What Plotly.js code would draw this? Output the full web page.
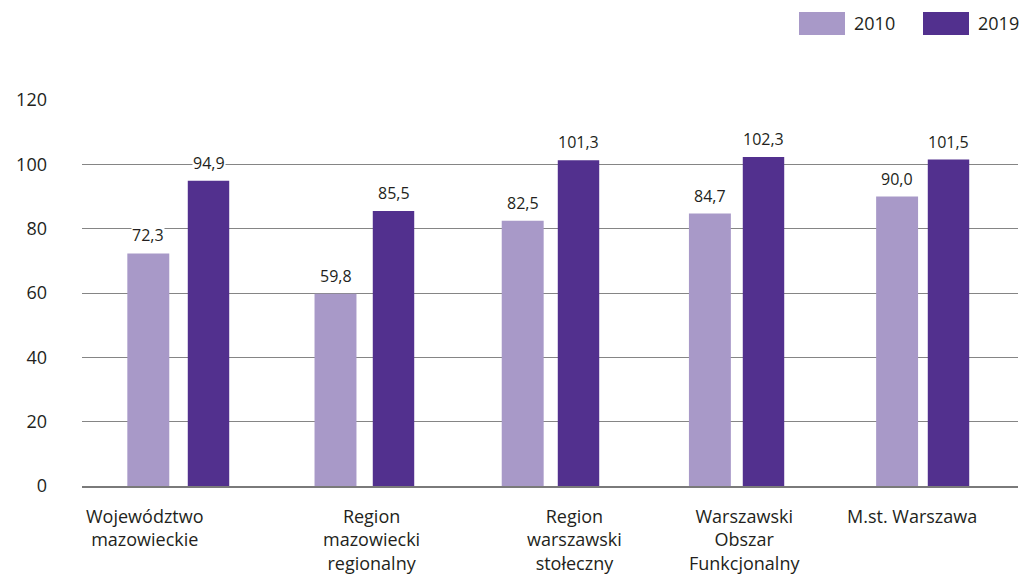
<!DOCTYPE html>
<html>
<head>
<meta charset="utf-8">
<script src="https://cdn.plot.ly/plotly-3.0.1.min.js"></script>
<style>html,body{margin:0;padding:0;background:#fff;}#chart{width:1021px;height:579px;}</style>
</head>
<body>
<div id="chart"></div>
<script>
const categories = ["Województwo<br>mazowieckie", "Region<br>mazowiecki<br>regionalny", "Region<br>warszawski<br>stołeczny", "Warszawski<br>Obszar<br>Funkcjonalny", "M.st. Warszawa"];
const seriesNames = ["2010", "2019"];
const values2010 = [72.3, 59.8, 82.5, 84.7, 90.0];
const values2019 = [94.9, 85.5, 101.3, 102.3, 101.5];
const yTicks = [0, 20, 40, 60, 80, 100, 120];

const colors = ["#A899C8", "#52308E"];
const FONT = "Open Sans, Noto Sans, sans-serif";
const TXT = "#231F20";

// plot area in pixels
const L = 82, R = 1018, T = 100, B = 486;
const W = R - L, H = B - T;

// each series sits on its own category axis (the reference spaces the two series slightly differently)
const axisNames = ["x", "x2"];
const traces = [values2010, values2019].map((vals, i) => ({
  type: "bar",
  name: seriesNames[i],
  x: categories,
  y: vals,
  xaxis: axisNames[i],
  width: 0.224,
  marker: { color: colors[i] },
  hoverinfo: "skip"
}));

const annotations = [];
// value labels
[values2010, values2019].forEach((vals, i) => {
  vals.forEach((v, j) => {
    annotations.push({
      x: categories[j], y: v, xref: axisNames[i], yref: "y",
      yanchor: "bottom", yshift: 6,
      text: v.toFixed(1).replace(".", ","),
      showarrow: false, bgcolor: "#ffffff", borderpad: 0,
      font: { family: FONT, size: 16, color: TXT }
    });
  });
});
// category labels (with the reference's horizontal offsets)
const labelShift = [-3, 36, 52, 35, 15];
categories.forEach((c, j) => {
  annotations.push({
    x: c, y: 0, xref: "x", yref: "y",
    xshift: labelShift[j], yanchor: "top", yshift: -16,
    text: c, showarrow: false, align: "center",
    font: { family: FONT, size: 18, color: TXT }
  });
});

// custom legend (wide swatches as in the reference)
const px = v => (v - L) / W;
const py = v => (B - v) / H;
const shapes = [];
const legendX = [799, 923];
seriesNames.forEach((n, i) => {
  shapes.push({
    type: "rect", xref: "paper", yref: "paper",
    x0: px(legendX[i]), x1: px(legendX[i] + 46), y0: py(35), y1: py(12),
    fillcolor: colors[i], line: { width: 0 }
  });
  annotations.push({
    xref: "paper", yref: "paper", x: px(legendX[i] + 53), y: py(23.5),
    xanchor: "left", yanchor: "middle", text: n, showarrow: false,
    font: { family: FONT, size: 18, color: TXT }
  });
});

// category-axis ranges so each series lands where the reference draws it
const c1 = 148.3, s1 = 187.2;   // 2010 bar centres
const c2 = 208.5, s2 = 185.0;   // 2019 bar centres
const rng = (c, s) => [(L - c) / s, (R - c) / s];

const layout = {
  width: 1021, height: 579,
  margin: { l: L, r: 1021 - R, t: T, b: 579 - B },
  paper_bgcolor: "#ffffff", plot_bgcolor: "#ffffff",
  showlegend: false,
  barmode: "overlay",
  font: { family: FONT, color: TXT },
  xaxis: {
    type: "category",
    range: rng(c1, s1),
    showticklabels: false,
    showgrid: false,
    showline: true, linecolor: "#7a7a7a", linewidth: 1.5,
    ticks: ""
  },
  xaxis2: {
    type: "category",
    overlaying: "x",
    range: rng(c2, s2),
    showticklabels: false,
    showgrid: false, showline: false, zeroline: false,
    ticks: ""
  },
  yaxis: {
    range: [0, 120],
    tickvals: yTicks,
    ticktext: yTicks.map(String),
    showgrid: true, gridcolor: "#858585", gridwidth: 1,
    zeroline: false,
    showline: false,
    ticks: "",
    ticklabelstandoff: 34,
    tickfont: { family: FONT, size: 18, color: TXT }
  },
  annotations: annotations,
  shapes: shapes
};

Plotly.newPlot("chart", traces, layout, { displayModeBar: false, staticPlot: true });
</script>
</body>
</html>
